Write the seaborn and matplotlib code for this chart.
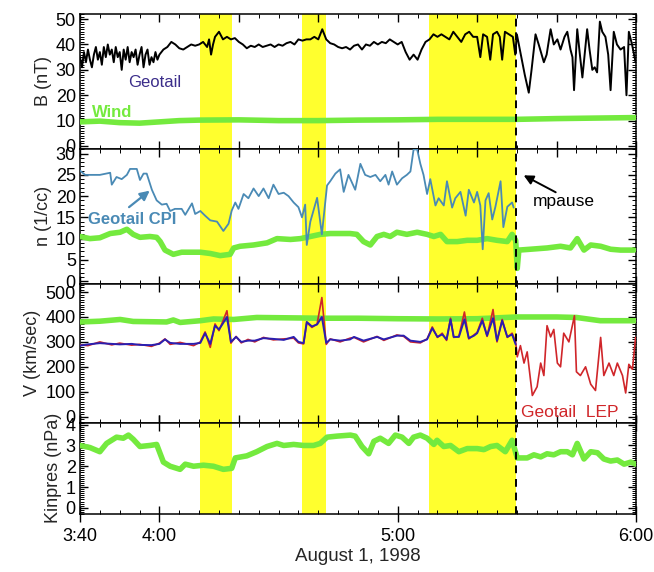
import matplotlib
matplotlib.use("Agg")
import matplotlib.pyplot as plt
import pandas as pd
import seaborn as sns
from matplotlib.ticker import MultipleLocator, FixedLocator

# ---- data: time in minutes after 3:40 UT, August 1 1998 ----
b_geotail = [(0,35),(0.5,31),(1,37),(1.5,33),(2,38),(2.5,34),(3,31),(3.5,36),(4,39),(4.5,34),(5,37),(5.5,32),
             (6,39),(6.5,35),(7,40),(7.5,36),(8,38),(8.5,33),(9,39),(9.5,35),(10,37),(10.5,30),(11,38),(11.5,34),
             (12,39),(12.5,33),(13,37),(13.5,35),(14,38),(14.5,32),(15,36),(15.5,39),(16,31),(16.5,36),(17,38),
             (17.5,32),(18,35),(18.5,33),(19,37),(19.5,34),(20,36),(21,38),(22,39),(23,41),(24,40),(25,38.5),
             (26,38),(27,39),(28,40),(29,39.5),(30,40),(31,41),(32,39),(32.5,42),(33,36),(33.5,40),(34,43),(35,45),
             (36,42),(37,43),(38,42),(39,42.5),(40,41),(41,40),(42,38.5),(43,39.5),(44,39),(45,40),(46,39),
             (47,39.5),(48,40),(49,39),(50,40),(51,39.5),(52,40.5),(53,41),(54,40),(55,42),(56,41.5),(57,42),
             (58,42),(59,43),(60,42),(61,46),(62,42),(63,40.5),(64,40),(65,39),(66,38.5),(67,39),(68,38),
             (69,39.5),(70,40),(71,38),(72,40),(73,39.5),(74,41),(75,40),(76,41),(77,40.5),(78,42),(79,41),
             (80,40),(81,41),(82,37),(83,34),(84,36),(85,34),(86,38),(87,41),(88,42),(89,44),(90,43),(91,44),
             (92,43),(93,42),(94,45),(95,43),(96,41),(97,44),(98,45),(99,43),(100,43),(100.8,35),(101.5,44),
             (102.5,43),(103.3,34),(104,44),(105,45),(105.7,43),(106.3,34),(107,45),(108,44),(109,43),(109.6,36),
             (110,44),(111,36),(112,28),(113,21),(113.7,30),(114.7,44),(115.5,40),(116.8,33),(117.5,36),
             (118.5,46),(119.3,40),(120.2,42),(121,38),(122,43),(122.7,45),(123.5,38),(124,35),(124.4,22),
             (125.2,46),(125.8,37),(126.5,27),(127.7,46),(128.3,38),(129,30),(129.6,31),(130.2,29),(130.9,49),
             (131.5,45),(132.3,43),(133,36),(133.6,22),(134.4,45),(135.2,40),(136.1,38),(137,39),(137.6,20),
             (138.2,45),(139,40),(139.9,33)]
b_wind = [(0,9.5),(5,9.8),(10,9.2),(15,9),(20,9.5),(25,10),(30,10.2),(40,10.3),(50,10),(60,10),(70,10.2),
          (80,10.3),(90,10.5),(100,10.5),(110,10.5),(120,10.8),(130,11),(140,11.2)]

n_cpi = [(0,26),(1.3,25),(3,25),(5,25),(7.6,25.5),(8,22.7),(9.2,24.5),(10.5,24),(11.8,25),(12.6,26.4),(14.3,26.4),
         (15.1,23.8),(16,25.3),(16.8,25.3),(18.1,21.5),(19.3,19),(20.6,18),(21.8,18.2),(22.7,16.5),(23.9,17),
         (25.6,17),(26.5,15.6),(28.2,18.3),(29,15.8),(30.3,16.5),(31.5,15.4),(32.8,14.3),(34.5,14),(36.1,11.8),
         (37.4,13.5),(38.2,16.6),(39.1,18.5),(39.9,17),(41.2,20.5),(42.4,19.5),(43.7,21.8),(45,20),(46.2,21.8),
         (47.5,19.5),(48.7,22.7),(50,20.5),(51.3,20.8),(52.5,20),(53.8,18.5),(55,17.4),(55.9,15),(56.7,18),
         (57.1,8.5),(58,14),(59.7,19.6),(60.9,11),(62.2,22.5),(63,23.5),(64.3,25.3),(65.5,26.3),(66.4,21),
         (67.6,25),(69.3,21.5),(70.6,27.6),(71.8,25),(73.1,24.5),(74.4,25),(75.6,23.5),(76.9,25),(77.7,22.7),
         (78.6,25.8),(79.8,22.7),(81.1,24.2),(82.3,25),(83.2,25.8),(84,31),(84.9,31),(85.7,27.6),(86.5,25),
         (87.4,20.5),(88.2,24),(89.5,17.8),(90.3,19.5),(91.6,17.8),(92.4,23.5),(93.7,17.3),(94.5,19.5),
         (95.8,21),(97.1,15.4),(97.9,21.5),(99.2,18.5),(100,21),(100.8,17.8),(101.4,7.5),(102.1,19),
         (102.9,20.7),(103.8,14.5),(104.6,17.5),(105.9,23.5),(106.6,12.7),(107.6,17.5),(108.8,18.5),(109.2,17.3)]
n_wind = [(0,10.5),(2.5,10),(5,10.2),(7.6,11.2),(10.1,11.5),(11.8,12.2),(13.4,11),(15.1,10.3),(17.6,10.5),
          (19.3,10.3),(20.2,9.3),(21.4,7.3),(23.5,6.3),(25.6,6.8),(27.7,6.8),(30.3,6.8),(32.8,6.5),(35.3,6),
          (37.8,6.3),(38.7,7.8),(40.3,8.2),(43.7,8.5),(47.1,9),(49.6,10),(53,9.8),(55.5,10),(58,10.5),
          (60.5,11),(63,11.2),(65.5,11.2),(68,11.2),(69.7,11),(71.4,9.3),(73.1,8.5),(74.8,10.5),(76.5,11),
          (78.1,10.5),(79.8,11.5),(82.3,11),(84.9,11.5),(87.4,11),(89.1,10.5),(90.8,11),(92.4,9.3),(95,9.3),
          (97.5,9.6),(100,9.6),(102.5,10),(105,9.6),(107.6,9.3),(108.8,11),(109.7,9.6),(110.1,3),(110.5,7.3),
          (113.4,7.5),(117.6,7.8),(121,8.2),(123.5,7.8),(125.2,10),(126.9,7.3),(128.6,8.5),(131.1,8.2),
          (133.6,7.5),(136.1,7.3),(139.5,7.3)]

v_times = [0,2,5,8,10,13,15,18,20,21.4,22.7,25.2,28.6,30.3,31.5,32.8,34,35,35.9,37,38,39.3,40.6,42.3,44,46.2,
           48.7,51.3,53.8,55,56.3,57.1,58.4,59.7,60.9,62,63,65.5,68,69,71.4,74.8,76.5,79.8,81.5,83.2,85.7,87.4,
           88.7,90,91.2,92.3,93.3,94.1,95.4,96.8,97.9,99.2,100,101.3,102.5,104,105,106.3,107.6,108.8,109.7]
v_cpi = [285,290,295,292,290,292,288,287,292,310,296,292,292,296,335,292,365,350,372,400,300,320,300,305,305,
         315,312,308,320,300,295,380,362,370,400,296,310,305,310,320,305,320,310,325,325,305,300,310,355,320,
         330,310,390,320,320,390,315,325,335,385,325,395,305,385,320,330,290]
v_lep = [288,285,300,288,295,287,290,282,295,312,290,298,285,300,340,278,372,345,380,425,295,322,296,310,300,
         318,308,312,315,296,292,378,358,372,478,290,312,300,315,318,300,322,306,328,322,300,296,312,360,318,
         335,306,395,318,322,420,312,328,338,395,322,430,300,390,318,335,300]
v_lep_after = [(110.1,240),(110.9,285),(111.8,215),(112.6,260),(113.9,85),(115.1,120),(116,215),(116.8,165),
               (117.6,365),(118.5,320),(119.3,350),(120.2,215),(121,200),(121.8,335),(123.1,300),(124.5,405),
               (125,180),(126,165),(127.3,200),(128.6,130),(129.8,105),(131.1,318),(131.9,165),(133.2,215),
               (134.4,165),(135.3,215),(136.6,165),(137.4,95),(138.2,210),(139.1,190),(139.9,318)]
v_wind = [(0,380),(5,383),(10.1,390),(13.4,382),(21.8,380),(23.5,388),(25.2,378),(30.3,385),(33.6,392),
          (38.7,390),(44.5,398),(55.5,396),(60.5,395),(70,395),(80,393),(90,392),(100,393),(110,400),
          (120,400),(125,398),(131,385),(140,385)]

kinpres = [(0,3.0),(2.5,2.9),(5,2.7),(6.7,3.1),(9.2,3.4),(10.9,3.35),(12.2,3.5),(13.4,3.3),(15.1,2.95),
           (17.6,3.0),(19.3,3.05),(21,2.2),(22.7,2.0),(25.2,1.85),(26.5,2.1),(28.6,2.0),(31.1,2.05),(33.6,2.0),
           (36.1,1.85),(38.2,1.9),(39.1,2.4),(42,2.5),(44.5,2.7),(47.1,2.95),(49.6,3.1),(51.3,3.0),(53.8,3.05),
           (56.3,3.0),(58.8,3.0),(60.5,3.1),(62.2,3.4),(64.7,3.45),(68.1,3.5),(69.3,3.45),(71,2.95),(72.7,2.6),
           (74,3.2),(75.6,3.35),(77.7,3.1),(79.4,3.5),(81.1,3.4),(82.8,3.1),(84,3.4),(85.7,3.5),(87.4,3.35),
           (89.1,3.05),(89.9,3.25),(91.6,2.95),(93.3,3.0),(95.4,2.7),(97.5,2.85),(100,2.85),(101.7,2.8),
           (103.4,2.95),(105,3.0),(107.1,2.7),(108.8,3.25),(110.1,2.4),(112.6,2.4),(114.3,2.55),(116,2.45),
           (117.6,2.6),(119.3,2.55),(121,2.7),(122.7,2.7),(124,2.55),(125.2,3.1),(126.9,2.35),(128.6,2.7),
           (130.3,2.65),(131.9,2.35),(133.6,2.25),(135.3,2.3),(137,2.1),(138.7,2.2),(139.9,2.1)]

bands = [(30.2, 38.3), (55.9, 61.9), (87.9, 109.8)]
mpause_t = 109.8
xtick_pos = [0, 20, 80, 140]
xtick_lab = ["3:40", "4:00", "5:00", "6:00"]
ylabels = ["B (nT)", "n (1/cc)", "V (km/sec)", "Kinpres (nPa)"]

# ---- style ----
sns.set_style("ticks")
plt.rcParams['font.family'] = ['Liberation Sans', 'DejaVu Sans']

GREEN = '#74ea3e'
YELLOW = '#ffff2e'
CPI = '#4a8ab5'
BLUE = '#2a1fb0'
RED = '#d0262a'

def frame(pairs):
    return pd.DataFrame(pairs, columns=['t', 'v'])

fig = plt.figure(figsize=(6.54, 5.72), dpi=100)
gs = fig.add_gridspec(4, 1, height_ratios=[134, 135, 138, 91], hspace=0,
                      left=80/654, right=636/654, top=1-14/572, bottom=1-514/572)
axes = [fig.add_subplot(gs[i]) for i in range(4)]

ylims = [(-1, 52), (-0.7, 31.2), (-24, 532), (-0.3, 4.1)]
ymaj = [10, 5, 100, 1]
ymin = [1, 1, 10, 0.1]

for i, ax in enumerate(axes):
    for a, b in bands:
        ax.axvspan(a, b, color=YELLOW, lw=0, zorder=0)
    ax.axvline(mpause_t, color='k', ls=(0, (4, 3)), lw=1.4, zorder=6)

# Panel 1: B
ax = axes[0]
sns.lineplot(data=frame(b_wind), x='t', y='v', ax=ax, color=GREEN, lw=4, zorder=3)
sns.lineplot(data=frame(b_geotail), x='t', y='v', ax=ax, color='black', lw=1.4, zorder=4)
ax.text(18.9, 25, "Geotail", color='#3b2d8a', fontsize=12, ha='center', va='center')
ax.text(8, 13, "Wind", color=GREEN, fontsize=12, fontweight='bold', ha='center', va='center')

# Panel 2: n
ax = axes[1]
sns.lineplot(data=frame(n_wind), x='t', y='v', ax=ax, color=GREEN, lw=4, zorder=3)
sns.lineplot(data=frame(n_cpi), x='t', y='v', ax=ax, color=CPI, lw=1.3, zorder=4)
ax.text(2.0, 14.5, "Geotail CPI", color=CPI, fontsize=12, fontweight='bold', ha='left', va='center')
ax.annotate("", xy=(18.1, 21.7), xytext=(11.8, 17.0),
            arrowprops=dict(arrowstyle='-|>', color=CPI, lw=1.6, mutation_scale=14))
ax.text(121.7, 18.7, "mpause", color='black', fontsize=12.5, ha='center', va='center')
ax.annotate("", xy=(111.1, 25.2), xytext=(120.4, 20.6),
            arrowprops=dict(arrowstyle='-|>', color='black', lw=1.4, mutation_scale=14))

# Panel 3: V
ax = axes[2]
sns.lineplot(data=frame(v_wind), x='t', y='v', ax=ax, color=GREEN, lw=4, zorder=3)
v_red = list(zip(v_times, v_lep)) + v_lep_after
sns.lineplot(data=frame(v_red), x='t', y='v', ax=ax, color=RED, lw=1.2, zorder=4)
sns.lineplot(data=frame(list(zip(v_times, v_cpi))), x='t', y='v', ax=ax, color=BLUE, lw=1.4, zorder=5)
ax.text(123.4, 18, "Geotail  LEP", color=RED, fontsize=12.5, ha='center', va='center')

# Panel 4: Kinpres
ax = axes[3]
sns.lineplot(data=frame(kinpres), x='t', y='v', ax=ax, color=GREEN, lw=4, zorder=3)

for i, ax in enumerate(axes):
    ax.set_xlim(0, 140)
    ax.set_ylim(*ylims[i])
    ax.yaxis.set_major_locator(MultipleLocator(ymaj[i]))
    ax.yaxis.set_minor_locator(MultipleLocator(ymin[i]))
    ax.xaxis.set_minor_locator(MultipleLocator(5))
    ax.set_ylabel(ylabels[i], fontsize=13, labelpad=3)
    ax.set_xlabel("")
    ax.tick_params(which='both', direction='in', top=True, right=True, colors='black')
    ax.tick_params(which='major', length=6, width=1, labelsize=13, pad=3)
    ax.tick_params(which='minor', length=3, width=0.7)
    for s in ax.spines.values():
        s.set_color('black'); s.set_linewidth(1.1)
    if i < 3:
        ax.xaxis.set_major_locator(MultipleLocator(20))
        ax.tick_params(axis='x', labelbottom=False)
    else:
        ax.xaxis.set_major_locator(FixedLocator(xtick_pos))
        ax.set_xticklabels(xtick_lab)
        ax.tick_params(axis='x', which='major', direction='inout', length=12, labelsize=13, pad=4)
        ax.set_xlabel("August 1, 1998", fontsize=13.5, labelpad=2)

fig.savefig("out.png", dpi=100)
